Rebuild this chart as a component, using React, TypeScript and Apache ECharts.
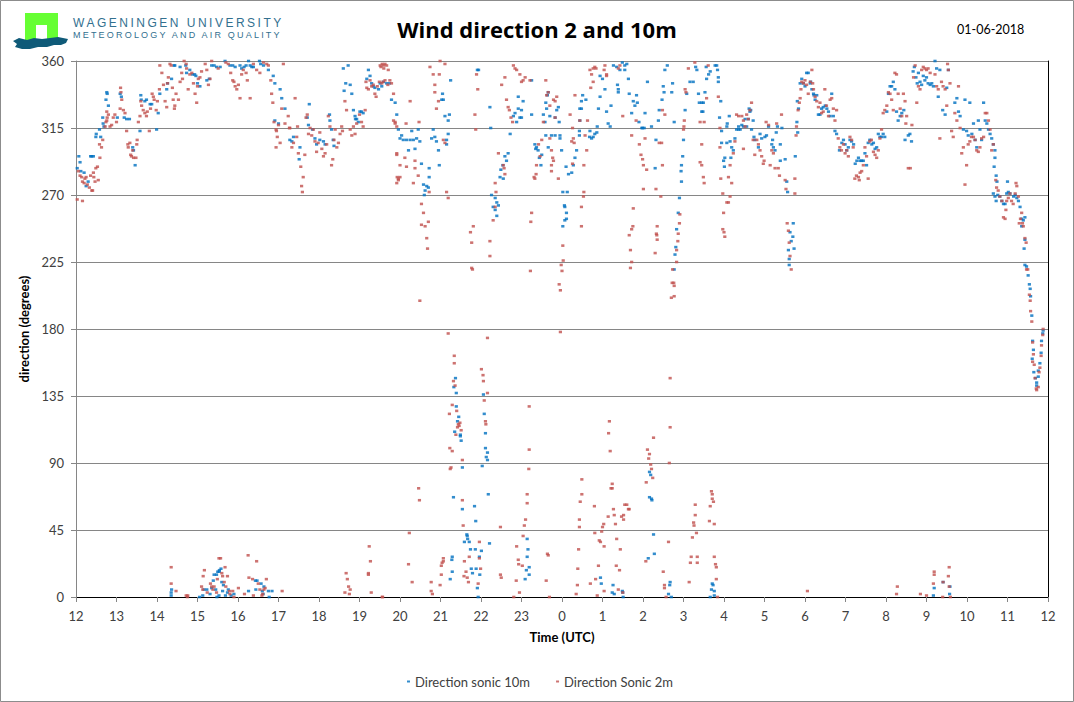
import React, { useEffect, useRef } from "react";
import * as echarts from "echarts";

const xTickLabels = ["12","13","14","15","16","17","18","19","20","21","22","23","0","1","2","3","4","5","6","7","8","9","10","11","12"];
const yTicks = [0, 45, 90, 135, 180, 225, 270, 315, 360];
const seriesNames = ["Direction sonic 10m", "Direction Sonic 2m"];

// Direction sonic 10m: [hour since 12 UTC (continuing past 24), degrees]
const sonic10mEvening: [number, number][] = [
  [12.03,288],[12.07,296],[12.1,292],[12.12,286],[12.2,285],[12.25,276],[12.3,279],[12.36,296],[12.39,296],[12.43,296],
  [12.49,309],[12.5,311],[12.58,314],[12.61,309],[12.66,322],[12.67,318],[12.69,316],[12.74,334],[12.76,339],[12.77,338],
  [12.8,330],[13.02,322],[13.09,338],[13.12,336],[13.19,322],[13.25,321],[13.32,321],[13.4,302],[13.42,300],[13.46,290],
  [13.58,313],[13.6,337],[13.61,334],[13.7,333],[13.74,334],[13.83,331],[13.87,331],[13.99,314],[14.03,325],[14.07,338],
  [14.24,341],[14.26,345],[14.36,348],[14.42,357],[14.44,357],[14.57,356],[14.71,357],[14.73,352],[14.81,354],[14.88,351],
  [14.93,351],[14.96,350],[15.0,345],[15.06,343],[15.23,347],[15.29,348],[15.35,357],[15.41,357],[15.47,356],[15.56,356],
  [15.68,360],[15.8,357],[15.87,357],[15.93,356],[16.05,357],[16.09,355],[16.15,356],[16.2,357],[16.26,360],[16.3,357],
  [16.34,356],[16.38,356],[16.53,360],[16.56,358],[16.63,357],[16.75,354],[16.87,350],[16.91,345],[16.91,320],[17.0,318],
  [17.04,341],[17.08,335],[17.16,328],[17.28,307],[17.33,306],[17.37,309],[17.51,294],[17.53,302],[17.71,322],[17.74,317],
  [17.76,331],[17.84,314],[17.9,308],[17.94,304],[18.02,307],[18.11,306],[18.15,304],[18.26,324],[18.27,320],[18.31,314],
  [18.35,307],[18.37,303],[18.6,355],[18.62,340],[18.66,345],[18.72,357],[18.77,344],[18.81,338],[18.85,327],[18.89,323],
  [18.9,321],[18.93,321],[18.97,319],[19.01,326],[19.05,326],[19.09,325],[19.18,348],[19.22,354],[19.26,350],[19.3,345],
  [19.34,343],[19.38,342],[19.47,341]
];

const sonic10mNight: [number, number][] = [
  [19.51,345],[19.55,343],[19.59,346],[19.67,345],[19.74,345],[19.79,334],[19.88,332],[19.92,324],[19.96,314],[20.0,308],
  [20.04,310],[20.08,307],[20.16,307],[20.21,300],[20.25,307],[20.29,313],[20.33,307],[20.37,301],[20.41,308],[20.45,314],
  [20.49,306],[20.53,291],[20.58,277],[20.6,270],[20.62,273],[20.66,276],[20.7,275],[20.72,288],[20.72,282],[20.78,308],
  [20.82,314],[20.86,309],[20.9,306],[20.95,300],[20.97,290],[21.03,334],[21.05,338],[21.07,334],[21.11,323],[21.15,304],
  [21.15,307],[21.19,320],[21.19,311],[21.22,324],[21.25,347],[21.91,354],[21.94,354],[22.22,329],[22.24,315],[22.26,270],
  [22.3,262],[22.35,268],[22.35,260],[22.39,265],[22.39,256],[22.43,263],[22.47,282],[22.49,287],[22.54,290],[22.55,281],
  [22.59,296],[22.63,293],[22.67,298],[22.72,311],[22.8,323],[22.84,325],[22.88,319],[22.92,336],[22.92,328],[22.96,322],
  [23.0,322],[23.0,327],[23.04,333],[23.25,347],[23.25,324],[23.33,304],[23.35,301],[23.37,302],[23.41,300],[23.44,295],
  [23.48,290],[23.5,297],[23.54,324],[23.58,319],[23.6,310],[23.6,332],[23.62,328],[23.64,337],[23.66,339],[23.66,302],
  [23.7,323],[23.74,310],[23.83,310],[23.83,322],[23.87,327],[23.91,329],[23.93,319],[23.95,310],[23.95,308],[23.99,300],
  [24.02,272],[24.02,249],[24.06,263],[24.07,262],[24.07,253],[24.1,289],[24.11,258],[24.11,254],[24.13,272],[24.16,284],
  [24.24,285],[24.28,290],[24.32,295],[24.36,300],[24.43,310],[24.43,313],[24.44,320],[24.44,328],[24.48,328],[24.48,333],
  [24.51,337],[24.59,334],[24.68,309],[24.69,313],[24.73,308],[24.77,309],[24.81,311],[24.86,312],[24.87,316],[24.9,328],
  [24.94,336],[24.94,350],[25.0,348],[25.06,341],[25.1,326],[25.14,318],[25.19,316],[25.21,330],[25.27,357],[25.35,356],
  [25.37,344],[25.39,341],[25.39,339],[25.43,354],[25.49,359],[25.55,357],[25.55,354],[25.6,358],[25.64,348],[25.66,338],
  [25.72,325],[25.76,333],[25.8,330],[25.84,337],[25.86,332],[25.9,319],[25.97,315],[25.99,315],[26.03,315],[26.05,325],
  [26.11,346],[26.21,316],[26.3,288],[26.32,307],[26.38,320],[26.4,327],[26.47,334],[26.5,343],[26.52,339],[26.54,354],
  [26.6,357],[26.71,339],[26.73,345],[26.77,319],[26.77,220],[26.79,230],[26.81,235],[26.83,247],[26.87,258],[26.9,268],
  [26.94,286],[26.95,290],[26.95,279],[26.98,296],[27.0,307],[27.04,327],[27.08,338],[27.16,346],[27.24,346],[27.3,356],
  [27.33,354],[27.37,338],[27.39,332]
];

const sonic10mMorning: [number, number][] = [
  [27.45,332],[27.45,326],[27.48,326],[27.49,332],[27.53,339],[27.56,356],[27.57,348],[27.62,351],[27.66,353],[27.78,357],
  [27.82,357],[27.84,354],[27.86,349],[27.86,346],[27.89,322],[27.92,333],[27.94,313],[27.94,305],[27.99,293],[28.01,289],
  [28.02,295],[28.07,305],[28.07,316],[28.08,318],[28.13,323],[28.15,306],[28.17,295],[28.19,302],[28.23,300],[28.27,308],
  [28.31,314],[28.36,314],[28.36,316],[28.4,314],[28.44,317],[28.48,316],[28.52,321],[28.56,316],[28.6,321],[28.62,328],
  [28.64,326],[28.66,327],[28.68,314],[28.72,320],[28.74,309],[28.76,307],[28.85,302],[28.89,311],[28.93,308],[29.01,309],
  [29.05,310],[29.1,316],[29.18,304],[29.2,307],[29.22,302],[29.26,300],[29.29,312],[29.32,316],[29.39,304],[29.39,293],
  [29.43,315],[29.51,294],[29.55,279],[29.57,272],[29.59,233],[29.61,227],[29.61,223],[29.63,245],[29.66,239],[29.7,242],
  [29.71,251],[29.73,234],[29.76,296],[29.8,319],[29.81,333],[29.82,312],[29.84,328],[29.88,345],[29.92,348],[29.96,345],
  [30.0,343],[30.04,352],[30.08,352],[30.13,345],[30.14,346],[30.17,341],[30.21,338],[30.22,337],[30.25,334],[30.29,337],
  [30.33,324],[30.37,324],[30.41,328],[30.45,329],[30.5,330],[30.54,328],[30.58,326],[30.62,323],[30.66,338],[30.7,323],
  [30.74,313],[30.78,311],[30.85,300],[30.91,305],[30.95,307],[30.99,304],[31.03,300],[31.07,302],[31.11,307],[31.15,306],
  [31.2,304],[31.24,291],[31.28,293],[31.32,295],[31.36,293],[31.4,293],[31.44,293],[31.48,298],[31.52,290],[31.56,305],
  [31.6,307],[31.65,304],[31.69,305],[31.73,301],[31.77,302],[31.81,311],[31.85,309],[31.89,309],[31.93,311],[31.97,309],
  [32.02,326],[32.06,338],[32.1,343],[32.14,343],[32.18,346],[32.22,341],[32.26,326],[32.3,320],[32.35,323],[32.39,325],
  [32.44,327],[32.47,307],[32.55,310],[32.59,311],[32.63,306],[32.67,353],[32.7,356],[32.74,349],[32.77,345],[32.8,352],
  [32.84,346],[32.88,344],[32.92,350],[32.96,347],[33.0,349],[33.04,345],[33.09,344],[33.13,345],[33.17,343],[33.21,360],
  [33.25,355],[33.29,336],[33.33,354],[33.4,327],[33.46,324],[33.5,342],[33.54,354],[33.7,332],[33.75,335],[33.79,326],
  [33.83,323],[33.91,314],[33.95,334],[33.99,313],[34.03,310],[34.07,332],[34.12,311],[34.16,318],[34.2,307],[34.24,302],
  [34.28,320],[34.32,314],[34.36,307],[34.41,332],[34.45,320],[34.49,318],[34.53,314],[34.57,311],[34.61,308],[34.65,304],
  [34.69,300],[34.69,295],[34.67,289],[34.72,283],[34.74,279],[34.65,271],[34.69,269],[34.72,266],[34.76,270],[34.81,269],
  [34.86,266],[34.9,264],[34.94,264],[34.98,271],[35.0,279],[35.02,272],[35.06,271],[35.15,269],[35.19,270],[35.23,268],
  [35.27,266],[35.31,262],[35.35,254],[35.39,253],[35.43,255],[35.43,240],[35.35,249],[35.41,234],[35.43,223],[35.47,222],
  [35.51,216],[35.54,210],[35.56,207],[35.57,202],[35.6,189],[35.62,172],[35.64,166],[35.61,160],[35.65,151],[35.69,147],
  [35.72,144],[35.72,142],[35.76,148],[35.76,152],[35.8,157],[35.83,164],[35.84,172],[35.87,177],[35.88,179]
];

const sonic10mLow: [number, number][] = [
  [14.35,1],[14.35,3],[14.36,5],[15.05,0],[15.13,1],[15.16,5],[15.23,5],[15.31,2],[15.35,6],[15.39,11],
  [15.41,15],[15.45,5],[15.47,15],[15.48,0],[15.5,17],[15.53,1],[15.54,18],[15.54,17],[15.58,19],[15.6,10],
  [15.62,4],[15.64,8],[15.69,1],[15.74,3],[15.76,5],[15.83,1],[15.9,2],[16.26,4],[16.43,11],[16.44,5],
  [16.47,11],[16.57,9],[16.6,4],[16.62,2],[16.64,7],[16.75,4],[16.77,0],[16.84,4],
  [21.37,147],[21.33,141],[21.39,137],[21.39,128],[21.45,121],[21.42,118],[21.49,109],[21.49,108],[21.51,105],[21.35,111],
  [21.54,87],[21.32,67],[21.54,59],[21.65,42],[21.66,41],[21.67,39],[21.59,37],[21.71,37],[21.74,32],[21.86,32],
  [21.84,61],[21.87,51],[21.76,19],[21.88,19],[21.79,16],[21.91,6],[21.93,0],[21.29,27],[21.28,25],[21.29,17],
  [21.24,12],[21.97,15],[21.96,27],[22.01,31],[22.21,36],[22.06,136],[22.08,123],[22.11,110],[22.11,100],[22.16,97],
  [22.13,94],[22.16,92],[22.03,88],[22.18,69],[23.14,39],[23.16,32],[23.14,27],[23.19,20],[23.12,18],[23.19,15],
  [23.09,12],[24.95,13],[24.97,9],[25.26,8],[25.24,3],[25.29,2],[25.49,4],[25.5,3],[25.51,0],[26.16,84],
  [26.19,82],[26.16,67],[26.21,66],[26.22,65],[26.26,42],[26.28,29],[26.13,26],[26.67,10],[26.66,8],[26.63,2],
  [26.7,0],[27.71,9],[27.73,8],[27.69,5],[27.76,4],[27.76,1],[27.66,0],[33.17,1],[33.19,6],[33.41,10],
  [33.57,2],[33.58,7]
];

// Direction Sonic 2m
const sonic2mEvening: [number, number][] = [
  [12.03,267],[12.16,266],[12.06,286],[12.1,283],[12.14,282],[12.16,279],[12.2,278],[12.22,281],[12.25,282],[12.28,277],
  [12.33,275],[12.39,273],[12.41,273],[12.36,283],[12.43,285],[12.44,282],[12.47,279],[12.49,288],[12.53,289],[12.55,280],
  [12.59,295],[12.63,302],[12.66,307],[12.58,304],[12.72,316],[12.74,319],[12.76,320],[12.77,322],[12.8,324],[12.76,326],
  [12.84,316],[12.88,317],[12.92,322],[12.96,324],[13.0,319],[13.09,328],[13.1,342],[13.11,339],[13.13,334],[13.17,327],
  [13.21,325],[13.25,313],[13.28,304],[13.29,302],[13.33,305],[13.35,297],[13.37,296],[13.4,300],[13.42,295],[13.48,295],
  [13.5,304],[13.51,307],[13.54,319],[13.58,323],[13.6,333],[13.62,330],[13.66,327],[13.7,325],[13.74,323],[13.76,326],
  [13.81,313],[13.84,328],[13.88,338],[13.91,336],[13.93,334],[13.98,327],[14.01,333],[14.06,341],[14.07,357],[14.12,352],
  [14.16,344],[14.2,333],[14.24,329],[14.26,345],[14.28,349],[14.32,358],[14.35,357],[14.38,342],[14.4,334],[14.43,328],
  [14.44,330],[14.47,338],[14.53,334],[14.57,346],[14.61,352],[14.63,348],[14.67,360],[14.72,358],[14.73,355],[14.77,341],
  [14.81,351],[14.86,352],[14.9,345],[14.94,338],[14.98,332],[15.0,343],[15.02,348],[15.06,349],[15.1,353],[15.19,358],
  [15.23,354],[15.27,344],[15.31,348],[15.35,360],[15.51,355],[15.7,359],[15.76,358],[15.82,352],[15.87,347],[15.9,346],
  [15.93,343],[15.97,341],[16.01,344],[16.05,335],[16.09,351],[16.13,354],[16.2,352],[16.23,347],[16.3,335],[16.38,358],
  [16.46,354],[16.54,352],[16.63,359],[16.71,358],[16.75,357],[16.81,347],[16.83,338],[16.86,332],[16.89,319],[16.94,314],
  [16.97,309],[16.94,302],[16.95,313],[17.0,317],[17.04,305],[17.08,328],[17.12,358],[17.16,318],[17.24,323],[17.27,315],
  [17.28,315],[17.33,302],[17.37,305],[17.41,335],[17.45,309],[17.47,316],[17.49,298],[17.55,289],[17.57,276],[17.59,272],
  [17.61,282],[17.65,297],[17.68,322],[17.71,324],[17.74,311],[17.78,315],[17.82,310],[17.86,314],[17.9,306],[17.94,299],
  [17.98,305],[18.02,312],[18.07,301],[18.11,296],[18.15,298],[18.19,304],[18.23,323],[18.27,316],[18.31,290],[18.34,294],
  [18.37,307],[18.4,314],[18.44,302],[18.48,305],[18.52,311],[18.56,316],[18.58,313],[18.64,333],[18.68,327],[18.77,314],
  [18.81,310],[18.85,316],[18.89,311],[18.93,318],[19.0,324],[19.05,319],[19.09,316],[19.14,327],[19.16,346],[19.18,342],
  [19.22,341],[19.26,347],[19.3,343],[19.34,344],[19.38,338],[19.41,336],[19.44,343],[19.49,346],[19.55,345],[19.59,357],
  [19.63,358],[19.67,357],[19.71,354],[19.75,347],[19.79,345],[19.84,338],[19.88,319],[19.92,298],[19.93,282],[19.96,280]
];

const sonic2mNight: [number, number][] = [
  [19.51,357],[19.53,356],[19.56,358],[19.6,355],[19.58,346],[19.63,347],[19.7,344],[19.84,320],[19.88,318],[19.92,316],
  [19.92,297],[20.0,290],[20.12,295],[20.16,289],[19.96,281],[20.0,282],[19.92,278],[20.37,293],[20.37,288],[20.45,283],
  [20.33,278],[20.53,264],[20.58,258],[20.7,252],[20.53,250],[20.62,249],[20.66,241],[20.68,234],[20.72,272],[21.15,272],
  [21.19,268],[20.74,356],[20.82,351],[20.97,351],[20.86,344],[20.86,339],[20.95,333],[20.9,328],[21.11,358],[20.99,360],
  [21.07,307],[21.11,305],[20.25,333],[20.47,319],[20.15,318],[21.85,324],[21.87,314],[21.89,351],[21.92,341],[21.77,221],
  [21.81,249],[21.74,245],[21.77,238],[22.22,229],[22.22,239],[22.3,253],[22.35,262],[22.43,298],[22.55,290],[22.57,288],
  [22.59,284],[22.35,278],[22.37,272],[22.51,344],[22.59,349],[22.63,334],[22.67,329],[22.7,327],[22.74,322],[22.78,319],
  [22.8,357],[22.84,355],[22.88,354],[22.96,351],[23.0,346],[23.04,347],[23.09,349],[23.21,347],[23.23,252],[23.25,258],
  [23.33,281],[23.31,282],[23.36,284],[23.37,290],[23.46,296],[23.42,304],[23.5,307],[23.54,319],[23.6,347],[23.62,337],
  [23.66,339],[23.7,330],[23.79,334],[23.83,333],[23.87,336],[23.83,322],[23.7,308],[23.74,300],[23.77,295],[23.74,290],
  [23.74,286],[23.79,293],[23.91,281],[24.03,226],[24.02,236],[23.98,223],[24.0,219],[24.2,324],[24.26,315],[24.28,308],
  [24.3,305],[24.24,306],[24.26,291],[24.32,337],[24.44,320],[24.48,262],[24.53,269],[24.54,272],[24.48,249],[24.63,320],
  [24.69,354],[24.77,355],[24.84,355],[24.81,356],[24.73,351],[24.77,346],[24.71,342],[24.57,310],[24.61,300],[24.54,290],
  [25.06,357],[25.1,351],[25.1,350],[25.04,354],[25.39,355],[25.43,357],[25.5,323],[25.72,310],[25.83,320],[25.91,304],
  [25.95,297],[25.99,294],[26.01,290],[26.05,308],[26.01,274],[26.09,287],[26.4,305],[26.46,305],[26.48,290],[26.44,269],
  [26.32,274],[26.35,249],[26.33,244],[26.34,243],[26.35,240],[26.3,231],[25.76,261],[25.75,249],[25.72,247],[25.66,243],
  [25.69,233],[25.72,225],[25.69,221],[26.48,327],[26.54,324],[27.0,314],[26.91,257],[26.9,251],[26.87,244],[26.86,239],
  [26.83,233],[26.83,225],[26.73,220],[27.04,341],[27.06,339],[27.02,320],[27.01,316],[27.12,355],[27.28,359],[27.41,319]
];

const sonic2mMorning: [number, number][] = [
  [27.41,292],[27.45,304],[27.45,290],[27.49,282],[27.51,319],[27.51,278],[27.57,335],[27.61,357],[27.86,336],[27.9,315],
  [27.9,302],[27.92,281],[27.97,271],[27.99,258],[27.97,247],[28.0,245],[28.02,242],[28.07,265],[28.11,265],[28.15,269],
  [28.19,278],[28.11,282],[28.15,290],[28.23,298],[28.27,306],[28.31,324],[28.36,323],[28.44,323],[28.48,301],[28.48,320],
  [28.52,316],[28.56,324],[28.6,321],[28.64,327],[28.68,332],[28.72,307],[28.76,297],[28.81,307],[28.85,304],[28.89,300],
  [28.93,296],[28.97,291],[28.99,293],[29.04,319],[29.1,317],[29.14,290],[29.18,300],[29.22,298],[29.26,288],[29.3,318],
  [29.34,288],[29.37,283],[29.42,324],[29.51,280],[29.53,274],[29.56,251],[29.59,246],[29.61,238],[29.63,229],[29.66,220],
  [29.75,281],[29.75,271],[29.78,310],[29.79,316],[29.83,327],[29.86,332],[29.88,335],[29.9,341],[29.92,346],[29.96,345],
  [30.0,347],[30.04,344],[30.08,338],[30.13,346],[30.17,354],[30.19,345],[30.21,341],[30.25,336],[30.29,333],[30.33,329],
  [30.37,332],[30.41,325],[30.45,326],[30.49,341],[30.53,330],[30.58,323],[30.62,334],[30.66,335],[30.7,328],[30.74,320],
  [30.78,327],[30.82,308],[30.86,302],[30.9,300],[30.95,304],[30.99,298],[31.03,300],[31.07,296],[31.11,309],[31.15,307],
  [31.19,302],[31.23,281],[31.27,283],[31.32,282],[31.34,280],[31.36,285],[31.4,286],[31.44,290],[31.48,302],[31.52,296],
  [31.56,281],[31.6,306],[31.64,307],[31.69,299],[31.73,297],[31.77,295],[31.81,300],[31.85,308],[31.89,314],[31.93,325],
  [31.97,327],[32.02,330],[32.06,339],[32.1,338],[32.14,334],[32.18,327],[32.22,352],[32.26,351],[32.3,338],[32.35,328],
  [32.39,323],[32.43,338],[32.47,333],[32.49,318],[32.51,323],[32.55,288],[32.6,288],[32.64,317],[32.68,349],[32.72,357],
  [32.76,332],[32.8,343],[32.84,341],[32.88,354],[32.92,356],[32.96,355],[33.0,354],[33.04,355],[33.09,352],[33.21,351],
  [33.25,343],[33.29,341],[33.33,308],[33.37,346],[33.41,343],[33.46,341],[33.5,330],[33.52,358],[33.54,354],[33.58,345],
  [33.62,313],[33.66,309],[33.7,325],[33.75,320],[33.79,343],[33.83,315],[33.87,298],[33.91,302],[33.95,277],[33.99,290],
  [34.03,304],[34.07,306],[34.11,309],[34.16,309],[34.2,307],[34.24,300],[34.28,299],[34.32,302],[34.36,308],[34.41,309],
  [34.45,325],[34.49,325],[34.53,320],[34.57,314],[34.61,300],[34.65,304],[34.71,280],[34.73,275],[34.77,273],[34.81,269],
  [34.86,266],[34.9,255],[34.94,254],[34.96,260],[34.98,266],[35.02,268],[35.06,271],[35.1,266],[35.14,264],[35.19,271],
  [35.23,276],[35.21,278],[35.27,269],[35.29,251],[35.32,254],[35.35,258],[35.37,251],[35.39,249],[35.43,241],[35.46,238],
  [35.47,220],[35.5,220],[35.54,203],[35.56,199],[35.57,192],[35.6,185],[35.62,171],[35.64,163],[35.62,158],[35.66,156],
  [35.68,147],[35.71,140],[35.72,139],[35.76,141],[35.78,151],[35.8,154],[35.83,162],[35.84,169],[35.87,176],[35.88,180]
];

const sonic2mLow: [number, number][] = [
  [14.35,20],[14.35,9],[14.47,4],[14.72,1],[14.75,0],[14.76,1],[15.1,7],[15.13,5],[15.14,14],[15.17,18],
  [15.24,3],[15.32,9],[15.35,7],[15.38,5],[15.41,7],[15.47,3],[15.49,12],[15.53,26],[15.57,26],[15.6,16],
  [15.62,14],[15.68,20],[15.66,10],[15.7,7],[15.74,14],[15.79,4],[15.8,2],[15.87,4],[15.9,0],[16.01,6],
  [16.16,2],[16.25,28],[16.27,13],[16.36,12],[16.38,1],[16.46,24],[16.5,9],[16.54,5],[16.59,1],[16.61,2],
  [16.64,5],[16.67,6],[16.7,12],[17.09,4],[18.67,16],[18.7,12],[18.73,7],[18.77,5],[18.75,2],[18.64,3],
  [19.24,34],[19.22,16],[19.22,15],[19.27,24],[19.29,3],[19.56,0],
  [20.49,199],[21.19,177],[21.34,162],[21.34,157],[21.32,145],[21.36,142],[21.29,129],[21.22,123],[21.4,125],[21.44,116],
  [21.48,117],[21.46,115],[21.42,114],[21.51,112],[21.38,109],[21.23,100],[21.29,98],[21.26,87],[21.24,86],[21.54,92],
  [21.54,65],[21.56,48],[21.96,37],[21.71,27],[21.59,24],[21.63,17],[21.66,13],[21.58,14],[21.69,10],[21.93,9],
  [21.96,26],[21.99,19],[21.07,26],[21.07,24],[21.04,23],[21.02,21],[21.02,15],[20.99,8],[20.77,10],[20.77,4],
  [20.8,2],[20.3,10],[20.21,22],[20.23,43],[20.46,73],[20.48,65],[19.57,0],[22.01,153],[22.05,149],[22.06,145],
  [22.11,118],[22.12,116],[22.08,132],[22.16,137],[22.16,174],[21.79,220],[22.48,47],[22.48,15],[22.5,13],[22.81,0],
  [22.88,34],[22.92,25],[22.93,22],[23.02,21],[22.87,11],[22.95,3],[23.04,41],[23.07,48],[23.1,52],[23.14,63],
  [23.14,69],[23.18,86],[23.19,99],[23.19,128],[23.22,219],[23.61,11],[23.64,29],[23.66,28],[23.69,0],[23.93,210],
  [23.96,206],[23.96,178],[24.35,2],[24.38,8],[24.39,19],[24.41,32],[24.43,47],[24.43,52],[24.45,64],[24.49,69],
  [24.49,79],[24.81,43],[24.8,61],[24.9,21],[24.92,38],[24.95,37],[24.98,44],[25.0,47],[25.03,49],[25.04,34],
  [25.14,54],[25.27,59],[25.29,55],[25.32,49],[25.35,39],[25.34,21],[25.42,18],[25.44,32],[25.47,54],[25.52,55],
  [25.52,52],[25.55,62],[25.6,62],[25.64,59],[25.66,59],[25.17,118],[25.15,110],[25.19,98],[25.24,76],[25.24,73],
  [25.21,73],[24.7,9],[24.83,12],[24.87,1],[25.04,4],[25.39,5],[25.5,3],[26.11,99],[26.16,96],[26.14,93],
  [26.19,89],[26.21,86],[26.24,80],[26.08,77],[26.26,107],[26.67,147],[26.67,114],[26.65,90],[26.63,37],[26.5,17],
  [26.53,8],[26.53,6],[26.57,0],[26.07,24],[26.72,211],[26.76,211],[26.77,209],[26.77,202],[26.7,201],[27.69,71],
  [27.71,69],[27.71,66],[27.74,64],[27.66,61],[27.29,62],[27.29,55],[27.25,50],[27.26,48],[27.64,51],[27.76,49],
  [27.32,43],[27.22,40],[27.19,27],[27.34,27],[27.34,23],[27.17,23],[27.14,10],[27.76,27],[27.79,22],[27.81,20],
  [27.81,12],[27.84,0],[30.06,4],[32.28,7],[32.26,2],[32.85,2],[33.0,1],[33.17,9],[33.19,17],[33.19,15],
  [33.41,10],[33.4,0],[33.56,20],[33.54,14],[33.56,7],[33.59,0]
];

const sonic10m = [...sonic10mEvening, ...sonic10mNight, ...sonic10mMorning, ...sonic10mLow];
const sonic2m = [...sonic2mEvening, ...sonic2mNight, ...sonic2mMorning, ...sonic2mLow];

const FONT = "Lato, 'Liberation Sans', sans-serif";
const GRAY = "#868686";
const TEXT = "#404040";

export default function App() {
  const ref = useRef<HTMLDivElement>(null);
  useEffect(() => {
    document.body.style.margin = "0";
    const chart = echarts.init(ref.current as HTMLDivElement, null, { renderer: "svg" });
    chart.setOption({
      animation: false,
      textStyle: { fontFamily: FONT },
      title: {
        text: "Wind direction 2 and 10m",
        left: "center",
        top: 13,
        textStyle: { fontFamily: "'Open Sans', Lato, sans-serif", fontSize: 22, fontWeight: "bold", color: "#000" },
      },
      legend: {
        left: 402,
        top: 670,
        itemGap: 26,
        itemWidth: 3,
        itemHeight: 2,
        textStyle: { fontFamily: FONT, fontSize: 13, color: TEXT },
        data: [
          { name: seriesNames[0], icon: "rect" },
          { name: seriesNames[1], icon: "rect" },
        ],
      },
      grid: { left: 76, right: 26, top: 61, bottom: 105 },
      xAxis: [
        {
          type: "value",
          min: 12,
          max: 36,
          interval: 1,
          name: "Time (UTC)",
          nameLocation: "middle",
          nameGap: 33,
          nameTextStyle: { fontFamily: FONT, fontSize: 13, fontWeight: "bold", color: "#000" },
          axisLine: { show: true, lineStyle: { color: GRAY, width: 1 } },
          axisTick: { show: true, length: 5, lineStyle: { color: GRAY } },
          axisLabel: {
            margin: 12,
            fontSize: 13,
            color: TEXT,
            fontFamily: FONT,
            formatter: (v: number) => xTickLabels[Math.round(v - 12)] ?? "",
          },
          splitLine: { show: false },
        },
        {
          type: "value",
          position: "top",
          min: 12,
          max: 36,
          interval: 1,
          axisLine: { show: true, lineStyle: { color: "#000", width: 1 } },
          axisTick: { show: false },
          axisLabel: { show: false },
          splitLine: { show: false },
        },
      ],
      yAxis: [
        {
          type: "value",
          min: 0,
          max: 360,
          interval: 45,
          name: "direction (degrees)",
          nameLocation: "middle",
          nameGap: 40,
          nameTextStyle: { fontFamily: FONT, fontSize: 13, fontWeight: "bold", color: "#000" },
          axisLine: { show: true, lineStyle: { color: GRAY, width: 1 } },
          axisTick: { show: true, length: 5, lineStyle: { color: GRAY } },
          axisLabel: {
            margin: 12,
            fontSize: 13,
            color: TEXT,
            fontFamily: FONT,
            formatter: (v: number) => (yTicks.includes(v) ? String(v) : ""),
          },
          splitLine: { show: true, lineStyle: { color: GRAY, width: 1 } },
        },
        {
          type: "value",
          position: "right",
          min: 0,
          max: 360,
          interval: 45,
          axisLine: { show: true, lineStyle: { color: "#000", width: 1 } },
          axisTick: { show: false },
          axisLabel: { show: false },
          splitLine: { show: false },
        },
      ],
      series: [
        {
          name: seriesNames[0],
          type: "scatter",
          xAxisIndex: 0,
          yAxisIndex: 0,
          data: sonic10m,
          symbol: "rect",
          symbolSize: [3.2, 2.6],
          itemStyle: { color: "#0070C0" },
          silent: true,
        },
        {
          name: seriesNames[1],
          type: "scatter",
          xAxisIndex: 0,
          yAxisIndex: 0,
          data: sonic2m,
          symbol: "rect",
          symbolSize: [3.2, 2.6],
          itemStyle: { color: "#C0504D" },
          silent: true,
        },
      ],
      graphic: [
        {
          type: "rect",
          shape: { x: 0.5, y: 0.5, width: 1073, height: 701 },
          style: { fill: "none", stroke: "#8c8c8c", lineWidth: 1 },
          silent: true,
        },
        { type: "rect", shape: { x: 25, y: 13, width: 33, height: 27 }, style: { fill: "#66FF33" } },
        { type: "rect", shape: { x: 36, y: 25, width: 11, height: 15 }, style: { fill: "#ffffff" } },
        {
          type: "polygon",
          shape: {
            points: [
              [13, 41], [19, 38], [27, 40], [34, 38], [42, 39], [50, 38], [58, 37], [68, 39],
              [66, 43], [61, 45], [54, 45], [47, 47], [38, 47], [30, 49], [22, 49], [15, 47], [17, 44],
            ],
          },
          style: { fill: "#0F5A78" },
        },
        {
          type: "text",
          x: 957,
          y: 23,
          style: { text: "01-06-2018", fontFamily: FONT, fontSize: 12.5, fill: "#000" },
        },
      ],
    });
    return () => chart.dispose();
  }, []);

  const logoText: React.CSSProperties = {
    position: "absolute",
    left: 73,
    fontFamily: "'Liberation Sans', Arial, sans-serif",
    color: "#32708F",
    whiteSpace: "nowrap",
  };

  return (
    <div style={{ position: "relative", width: 1074, height: 702 }}>
      <div ref={ref} style={{ width: 1074, height: 702 }} />
      <div style={{ ...logoText, top: 17, fontSize: 12, lineHeight: "12px", letterSpacing: "2.5px" }}>
        WAGENINGEN UNIVERSITY
      </div>
      <div style={{ ...logoText, top: 31, fontSize: 9, lineHeight: "9px", letterSpacing: "2.2px" }}>
        METEOROLOGY AND AIR QUALITY
      </div>
    </div>
  );
}
